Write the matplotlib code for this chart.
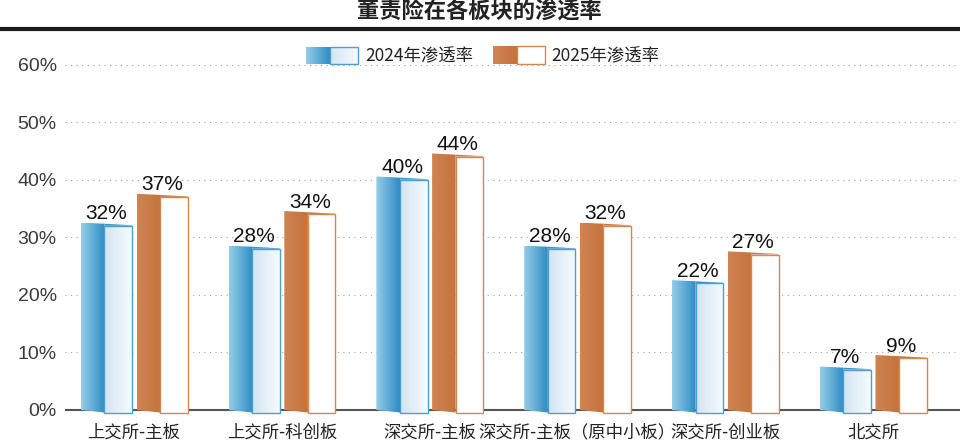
import numpy as np
import matplotlib.pyplot as plt
from matplotlib.patches import Polygon
from matplotlib.colors import to_rgb

# ---------------- data ----------------
categories = ['上交所-主板', '上交所-科创板', '深交所-主板',
              '深交所-主板（原中小板）', '深交所-创业板', '北交所']
rate_2024 = [32, 28, 40, 28, 22, 7]
rate_2025 = [37, 34, 44, 32, 27, 9]
series_labels = ['2024年渗透率', '2025年渗透率']
yticks = [0, 10, 20, 30, 40, 50, 60]
title = '董责险在各板块的渗透率'

cjk = ['Noto Sans CJK SC', 'DejaVu Sans']
latin = ['Liberation Sans', 'DejaVu Sans']


def grad(c1, c2, n=64):
    a = np.array(to_rgb(c1))
    b = np.array(to_rgb(c2))
    t = np.linspace(0, 1, n)[:, None]
    return (a + (b - a) * t)[None, :, :]


def shaded(ax, pts, c1, c2, z, ec='none', lw=0):
    poly = Polygon(pts, closed=True, fc='none', ec=ec, lw=lw, zorder=z + 0.1)
    ax.add_patch(poly)
    xs = [p[0] for p in pts]
    ys = [p[1] for p in pts]
    im = ax.imshow(grad(c1, c2), extent=(min(xs), max(xs), min(ys), max(ys)),
                   aspect='auto', interpolation='bilinear', zorder=z, origin='lower')
    im.set_clip_path(poly)


def draw_bar(ax, xc, v, off, side, front, edge, topc):
    x0, x1, x2 = xc + off[0], xc + off[1], xc + off[2]
    shaded(ax, [(x0, 0), (x1, -0.45), (x1, v + 0.35), (x0, v + 0.55)], side[0], side[1], 2)
    ax.add_patch(Polygon([(x1, v), (x1, v + 0.35), (x2, v + 0.08), (x2, v)],
                         closed=True, fc=topc, ec='none', zorder=2))
    shaded(ax, [(x1, -0.45), (x2, -0.45), (x2, v), (x1, v)], front[0], front[1], 3,
           ec=edge, lw=1.0)
    ax.text((x0 + x2) / 2, v + 1.15, f'{v}%', ha='center', va='baseline',
            fontsize=15, family=latin, color='#111', zorder=5)


blue_side = ('#94cde8', '#2f8cc4')
blue_front = ('#d2e5f3', '#f7fbfe')
blue_edge = '#4aa0d2'
orange_side = ('#cf8452', '#c4733c')
orange_front = ('#ffffff', '#ffffff')
orange_edge = '#d4884f'

fig = plt.figure(figsize=(9.6, 4.44), dpi=100)
ax = fig.add_axes([65 / 960, 25.4 / 444, 1 - 65 / 960, 365.6 / 444])

for i in range(len(categories)):
    draw_bar(ax, i, rate_2024[i], (-0.36, -0.20, -0.013), blue_side, blue_front, blue_edge, '#3a93c8')
    draw_bar(ax, i, rate_2025[i], (0.017, 0.176, 0.363), orange_side, orange_front, orange_edge, '#c97a44')

for t in yticks[1:]:
    ax.axhline(t, color='#a0a0a0', ls=(0, (1, 4)), lw=0.8, zorder=0)
ax.axhline(0, color='#555555', lw=1.5, zorder=1)

ax.set_xlim(-0.467, 5.589)
ax.set_ylim(-1.5, 62)
ax.set_xticks(range(len(categories)))
ax.set_xticklabels(categories, family=cjk, fontsize=12.5, color='#222')
ax.set_yticks(yticks)
ax.set_yticklabels([f'{t}%' for t in yticks], family=latin, fontsize=14, color='#3a3a3a')
ax.tick_params(axis='x', length=0, pad=3.5)
ax.tick_params(axis='y', length=0, pad=6)
for s in ax.spines.values():
    s.set_visible(False)

# header, rule and legend in pixel coordinates
lax = fig.add_axes([0, 0, 1, 1])
lax.axis('off')
lax.plot([0, 960], [29, 29], color='#1a1a1a', lw=3, solid_capstyle='butt')

shaded(lax, [(306, 47), (330, 47), (330, 64), (306, 64)], blue_side[0], blue_side[1], 2)
shaded(lax, [(330, 47), (358, 47), (358, 64), (330, 64)], blue_front[0], blue_front[1], 3,
       ec=blue_edge, lw=1.0)
shaded(lax, [(493, 46), (517, 46), (517, 64), (493, 64)], orange_side[0], orange_side[1], 2)
shaded(lax, [(517, 46), (545, 46), (545, 64), (517, 64)], orange_front[0], orange_front[1], 3,
       ec=orange_edge, lw=1.0)
lax.text(365, 56, series_labels[0], family=cjk, fontsize=12.5, color='#222',
         ha='left', va='center', bbox=dict(fc='white', ec='none', pad=0))
lax.text(551, 56, series_labels[1], family=cjk, fontsize=12.5, color='#222',
         ha='left', va='center', bbox=dict(fc='white', ec='none', pad=0))
lax.set_xlim(0, 960)
lax.set_ylim(444, 0)

fig.text(479 / 960, 1 - 12 / 444, title, ha='center', va='center',
         fontsize=16, fontweight='bold', family=cjk, color='#222')

fig.savefig('out.png', dpi=100)
